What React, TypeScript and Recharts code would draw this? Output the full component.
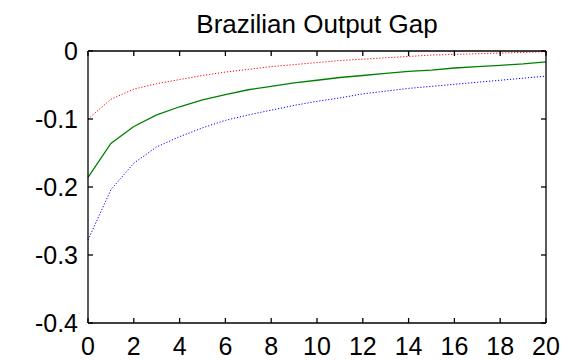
import { LineChart, Line, XAxis, YAxis } from 'recharts';

const periods = [0, 1, 2, 3, 4, 5, 6, 7, 8, 9, 10, 11, 12, 13, 14, 15, 16, 17, 18, 19, 20];
const upperBand = [-0.1, -0.071, -0.056, -0.048, -0.042, -0.036, -0.031, -0.027, -0.023, -0.02, -0.017, -0.014, -0.012, -0.01, -0.008, -0.006, -0.005, -0.004, -0.003, -0.002, -0.001];
const median = [-0.186, -0.136, -0.111, -0.094, -0.082, -0.072, -0.064, -0.057, -0.052, -0.047, -0.043, -0.039, -0.036, -0.033, -0.03, -0.028, -0.025, -0.023, -0.021, -0.019, -0.016];
const lowerBand = [-0.278, -0.204, -0.165, -0.141, -0.126, -0.113, -0.102, -0.094, -0.087, -0.08, -0.074, -0.069, -0.063, -0.059, -0.055, -0.052, -0.049, -0.046, -0.043, -0.04, -0.037];
const xTicks = [0, 2, 4, 6, 8, 10, 12, 14, 16, 18, 20];
const yTicks = [-0.4, -0.3, -0.2, -0.1, 0];

const data = periods.map((p, i) => ({ p, hi: upperBand[i], mid: median[i], lo: lowerBand[i] }));

const font = { fontFamily: '"Liberation Sans", Arial, sans-serif', fontSize: 25, fill: '#000' };
const axisLine = { stroke: '#000', strokeWidth: 1.3 };
const yFmt = (v: number) => (v === 0 ? '0' : v.toFixed(1));
const blank = () => '';

export default function App() {
  return (
    <div style={{ position: 'absolute', left: 0, top: 0, width: 575, height: 360, background: '#fff' }}>
      <div
        style={{
          position: 'absolute',
          left: 88,
          width: 458,
          top: 9,
          textAlign: 'center',
          fontFamily: '"Liberation Sans", Arial, sans-serif',
          fontSize: 26,
          lineHeight: '30px',
          color: '#000',
        }}
      >
        Brazilian Output Gap
      </div>
      <LineChart width={575} height={360} data={data} margin={{ top: 50, right: 28, bottom: 0, left: 0 }}>
        <XAxis
          xAxisId="b"
          dataKey="p"
          type="number"
          domain={[0, 20]}
          ticks={xTicks}
          tick={font}
          tickSize={-5}
          tickMargin={19}
          axisLine={axisLine}
          tickLine={axisLine}
          height={37}
        />
        <XAxis
          xAxisId="t"
          orientation="top"
          dataKey="p"
          type="number"
          domain={[0, 20]}
          ticks={xTicks}
          tickFormatter={blank}
          tickSize={-5}
          axisLine={axisLine}
          tickLine={axisLine}
          height={1}
        />
        <YAxis
          yAxisId="l"
          type="number"
          domain={[-0.4, 0]}
          ticks={yTicks}
          tickFormatter={yFmt}
          tick={font}
          tickSize={-5}
          tickMargin={15}
          axisLine={axisLine}
          tickLine={axisLine}
          width={88}
        />
        <YAxis
          yAxisId="r"
          orientation="right"
          type="number"
          domain={[-0.4, 0]}
          ticks={yTicks}
          tickFormatter={blank}
          tickSize={-5}
          axisLine={axisLine}
          tickLine={axisLine}
          width={1}
        />
        <Line xAxisId="t" yAxisId="r" dataKey="hi" stroke="none" dot={false} legendType="none" isAnimationActive={false} />
        <Line xAxisId="b" yAxisId="l" dataKey="hi" stroke="#ff0000" strokeWidth={1} strokeDasharray="1.2 1.8" dot={false} isAnimationActive={false} />
        <Line xAxisId="b" yAxisId="l" dataKey="mid" stroke="#008000" strokeWidth={1.3} dot={false} isAnimationActive={false} />
        <Line xAxisId="b" yAxisId="l" dataKey="lo" stroke="#0000ff" strokeWidth={1} strokeDasharray="1.2 1.8" dot={false} isAnimationActive={false} />
      </LineChart>
    </div>
  );
}
